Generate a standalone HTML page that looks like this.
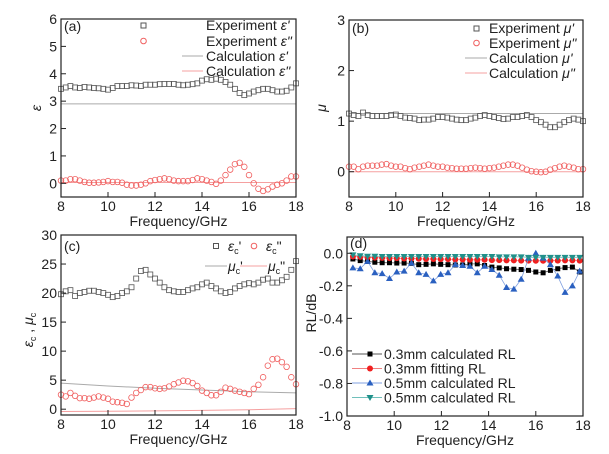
<!DOCTYPE html>
<html><head><meta charset="utf-8"><style>
body{margin:0;background:#fff}
svg{display:block;font-family:"Liberation Sans",Arial,sans-serif}
</style></head><body>
<svg id="fig" width="609" height="454" viewBox="0 0 609 454"></svg>
<script>
const freq = [];
for (let i = 0; i <= 50; i++) freq.push(8 + i * 0.2);
const epsReal = [3.45,3.5,3.55,3.5,3.48,3.52,3.5,3.48,3.47,3.45,3.42,3.48,3.55,3.55,3.55,3.58,3.57,3.55,3.6,3.6,3.6,3.62,3.63,3.63,3.63,3.6,3.58,3.6,3.62,3.65,3.75,3.8,3.78,3.82,3.78,3.7,3.6,3.45,3.3,3.22,3.28,3.35,3.4,3.45,3.45,3.4,3.35,3.35,3.38,3.5,3.65];
const epsImag = [0.1,0.1,0.15,0.15,0.1,0.05,0.02,0.02,0.03,0.05,0.08,0.05,0.05,0.02,-0.05,-0.08,-0.08,-0.05,0,0.08,0.12,0.15,0.18,0.15,0.1,0.08,0.08,0.08,0.12,0.18,0.15,0.1,0.05,-0.02,0.1,0.3,0.5,0.7,0.75,0.6,0.3,0,-0.2,-0.28,-0.22,-0.12,-0.05,0,0.1,0.25,0.25];
const epsCalcReal = 2.9, epsCalcImag = 0.03;
const muReal = [1.15,1.12,1.1,1.17,1.12,1.1,1.1,1.1,1.1,1.12,1.13,1.1,1.07,1.06,1.05,1.02,1.03,1.03,1.05,1.08,1.08,1.07,1.05,1.03,1.02,1.02,1.05,1.07,1.1,1.12,1.1,1.08,1.06,1.04,1.05,1.08,1.08,1.1,1.12,1.08,1.02,0.98,0.93,0.88,0.88,0.93,0.98,1.02,1.05,1.03,1.0];
const muImag = [0.1,0.1,0.05,0.1,0.12,0.12,0.12,0.14,0.15,0.12,0.1,0.1,0.07,0.05,0.08,0.1,0.12,0.14,0.12,0.1,0.1,0.08,0.07,0.06,0.06,0.06,0.07,0.08,0.07,0.06,0.07,0.08,0.1,0.12,0.14,0.14,0.12,0.08,0.04,0.01,0,-0.01,0,0.04,0.07,0.1,0.12,0.1,0.08,0.05,0.05];
const muCalcReal = 1.15, muCalcImag = 0;
const epsCReal = [19.8,20.3,20.5,19.5,20,20.2,20.4,20.4,20.2,20,19.7,19.3,19.5,20,20.3,21,22.5,23.8,24,23.2,22.5,21.8,21,20.5,20.3,20.2,20.2,20.5,20.8,21,21.5,21.8,21.2,20.8,20.3,20,20.2,20.8,21.2,21.5,21.7,21.5,21.8,22.3,22.5,21.8,21.8,22.2,22.8,24,25.5];
const epsCImag = [2.5,2.2,2.8,2.3,1.9,1.9,1.8,2,2.2,2,1.8,1.3,1.2,1.1,0.9,2,2.8,3.3,3.8,3.8,3.6,3.5,3.6,3.9,4.3,4.6,4.9,4.8,4.5,4,3.2,2.8,2.4,2.4,3,3.7,3.5,3.2,3,2.8,2.6,3.5,4.2,5.5,7.5,8.6,8.7,8.1,7.3,5.5,4.3];
const muCFreq = [8,10,12,14,16,18];
const muCReal = [4.5,4.0,3.6,3.3,3.0,2.8];
const muCImag = [-0.4,-0.35,-0.3,-0.2,-0.1,0.1];
const rlFreq = [];
for (let i = 0; i < 32; i++) rlFreq.push(8.25 + i * 0.31);
const rl03calc = [-0.035,-0.045,-0.05,-0.055,-0.058,-0.058,-0.06,-0.06,-0.062,-0.07,-0.068,-0.065,-0.068,-0.07,-0.072,-0.072,-0.065,-0.065,-0.075,-0.085,-0.09,-0.095,-0.098,-0.1,-0.105,-0.115,-0.12,-0.105,-0.095,-0.088,-0.085,-0.115];
const rl03fit = [-0.02,-0.022,-0.025,-0.027,-0.028,-0.03,-0.03,-0.032,-0.032,-0.034,-0.035,-0.035,-0.036,-0.036,-0.038,-0.038,-0.04,-0.04,-0.04,-0.042,-0.042,-0.044,-0.044,-0.045,-0.045,-0.046,-0.046,-0.045,-0.045,-0.044,-0.044,-0.045];
const rl05calc = [-0.09,-0.095,-0.05,-0.12,-0.125,-0.155,-0.115,-0.11,-0.06,-0.12,-0.13,-0.17,-0.13,-0.12,-0.07,-0.075,-0.08,-0.12,-0.08,-0.1,-0.135,-0.21,-0.22,-0.16,-0.03,0.0,-0.03,-0.07,-0.14,-0.24,-0.2,-0.11];
const rl05b = [-0.01,-0.015,-0.018,-0.018,-0.02,-0.02,-0.02,-0.02,-0.02,-0.02,-0.02,-0.02,-0.02,-0.02,-0.02,-0.02,-0.02,-0.02,-0.02,-0.02,-0.022,-0.022,-0.022,-0.022,-0.025,-0.025,-0.025,-0.025,-0.025,-0.025,-0.025,-0.025];
const xTicks = [8,10,12,14,16,18];
const aTicks = [0,1,2,3,4,5,6];
const bTicks = [0,1,2,3];
const cTicks = [0,5,10,15,20,25,30];
const dTicks = [0,-0.2,-0.4,-0.6,-0.8,-1.0];
const dTickLabels = ["0.0","-0.2","-0.4","-0.6","-0.8","-1.0"];

const NS = "http://www.w3.org/2000/svg";
const svg = document.getElementById('fig');
function mk(tag, attrs, parent, text) {
  const e = document.createElementNS(NS, tag);
  for (const k in attrs) e.setAttribute(k, attrs[k]);
  if (text !== undefined) e.textContent = text;
  (parent || svg).appendChild(e);
  return e;
}
function panel(name, px0, px1, py0, py1, x0, x1, y0, y1) {
  const g = mk('g', {});
  
  
  const sx = v => px0 + (v - x0) / (x1 - x0) * (px1 - px0);
  const sy = v => py1 - (v - y0) / (y1 - y0) * (py1 - py0);
  return {g, sx, sy, px0, px1, py0, py1};
}
function frame(P, yt, ylabels, xlabel, ylab) {
  const r = mk('rect', {x:P.px0, y:P.py0, width:P.px1-P.px0, height:P.py1-P.py0, fill:'none', stroke:'#222', 'stroke-width':1.2}, P.g);
  
  
  xTicks.forEach(t => {
    const x = P.sx(t);
    mk('line', {x1:x, x2:x, y1:P.py1, y2:P.py1-5, stroke:'#222'}, P.g);
    const tl = mk('text', {x:x, y:P.py1+14, 'font-size':14, 'text-anchor':'middle', fill:'#222'}, P.g, t);
    
    
  });
  yt.forEach((t, i) => {
    const y = P.sy(t);
    mk('line', {x1:P.px0, x2:P.px0+5, y1:y, y2:y, stroke:'#222'}, P.g);
    const tl = mk('text', {x:P.px0-4, y:y+5, 'font-size':14, 'text-anchor':'end', fill:'#222'}, P.g, ylabels[i]);
    
    
  });
  const xt = mk('text', {x:(P.px0+P.px1)/2, y:P.py1+29, 'font-size':14, 'text-anchor':'middle', fill:'#222'}, P.g, 'Frequency/GHz');
  
  
}
function line(P, xs, ys, color, w) {
  const pts = xs.map((x, i) => P.sx(x).toFixed(1) + ',' + P.sy(ys[i]).toFixed(1)).join(' ');
  return mk('polyline', {points:pts, fill:'none', stroke:color, 'stroke-width':w||1}, P.g);
}
function squares(P, xs, ys, color) {
  const g = mk('g', {}, P.g);
  xs.forEach((x, i) => mk('rect', {x:P.sx(x)-2.5, y:P.sy(ys[i])-2.5, width:5, height:5, fill:'none', stroke:color, 'stroke-width':0.8}, g));
  return g;
}
function circles(P, xs, ys, color) {
  const g = mk('g', {}, P.g);
  xs.forEach((x, i) => mk('circle', {cx:P.sx(x), cy:P.sy(ys[i]), r:2.8, fill:'none', stroke:color, 'stroke-width':0.8}, g));
  return g;
}
function marker(g, type, x, y, color) {
  if (type === 'sq') mk('rect', {x:x-2.5, y:y-2.5, width:5, height:5, fill:color}, g);
  else if (type === 'ci') mk('circle', {cx:x, cy:y, r:3, fill:color}, g);
  else if (type === 'up') mk('polygon', {points:`${x},${y-3.5} ${x-3.5},${y+2.5} ${x+3.5},${y+2.5}`, fill:color}, g);
  else mk('polygon', {points:`${x},${y+3.5} ${x-3.5},${y-2.5} ${x+3.5},${y-2.5}`, fill:color}, g);
}
function ytitle(P, x, y, html, name) {
  const t = mk('text', {x:x, y:y, 'font-size':14, 'text-anchor':'middle', fill:'#222', transform:`rotate(-90 ${x} ${y})`}, P.g);
  t.innerHTML = html;
  
  
}
function label(P, x, y, txt) {
  const t = mk('text', {x:x, y:y, 'font-size':14, fill:'#222'}, P.g, txt);
  
  
}
function legText(P, x, y, html) {
  const t = mk('text', {x:x, y:y+5, 'font-size':14, fill:'#222'}, P.g);
  t.innerHTML = html;
  
  
}
const GRAY = '#555', RED = '#f06060', LGRAY = '#aaa', LRED = '#f5a0a0';

// Panel a
const A = panel('panel-a', 61, 296, 19, 197, 8, 18, -0.5, 6);
mk('line', {x1:A.px0, x2:A.px1, y1:A.sy(epsCalcReal), y2:A.sy(epsCalcReal), stroke:LGRAY}, A.g);
mk('line', {x1:A.px0, x2:A.px1, y1:A.sy(epsCalcImag), y2:A.sy(epsCalcImag), stroke:LRED}, A.g);
squares(A, freq, epsReal, GRAY);
circles(A, freq, epsImag, RED);
frame(A, aTicks, aTicks, '', '');
label(A, 64, 31, '(a)');
ytitle(A, 41, 108, '<tspan font-style="italic">ε</tspan>', 'y-axis-title');
mk('rect', {x:141, y:23, width:5, height:5, fill:'none', stroke:GRAY}, A.g);
mk('circle', {cx:143.5, cy:41, r:2.8, fill:'none', stroke:RED}, A.g);
mk('line', {x1:182, x2:203, y1:56, y2:56, stroke:LGRAY}, A.g);
mk('line', {x1:182, x2:203, y1:71, y2:71, stroke:LRED}, A.g);
legText(A, 206, 25, 'Experiment <tspan font-style="italic">ε\'</tspan>');
legText(A, 206, 41, 'Experiment <tspan font-style="italic">ε"</tspan>');
legText(A, 206, 56, 'Calculation <tspan font-style="italic">ε\'</tspan>');
legText(A, 206, 71, 'Calculation <tspan font-style="italic">ε"</tspan>');

// Panel b
const B = panel('panel-b', 349, 583, 20, 197, 8, 18, -0.5, 3);
mk('line', {x1:B.px0, x2:B.px1, y1:B.sy(muCalcReal), y2:B.sy(muCalcReal), stroke:LGRAY}, B.g);
mk('line', {x1:B.px0, x2:B.px1, y1:B.sy(muCalcImag), y2:B.sy(muCalcImag), stroke:LRED}, B.g);
squares(B, freq, muReal, GRAY);
circles(B, freq, muImag, RED);
frame(B, bTicks, bTicks, '', '');
label(B, 352, 33, '(b)');
ytitle(B, 326, 108, '<tspan font-style="italic">μ</tspan>', 'y-axis-title');
mk('rect', {x:474, y:26, width:5, height:5, fill:'none', stroke:GRAY}, B.g);
mk('circle', {cx:476.5, cy:43, r:2.8, fill:'none', stroke:RED}, B.g);
mk('line', {x1:465, x2:487, y1:58, y2:58, stroke:LGRAY}, B.g);
mk('line', {x1:465, x2:487, y1:73, y2:73, stroke:LRED}, B.g);
legText(B, 489, 28, 'Experiment <tspan font-style="italic">μ\'</tspan>');
legText(B, 489, 43, 'Experiment <tspan font-style="italic">μ"</tspan>');
legText(B, 489, 58, 'Calculation <tspan font-style="italic">μ\'</tspan>');
legText(B, 489, 73, 'Calculation <tspan font-style="italic">μ"</tspan>');

// Panel c
const C = panel('panel-c', 61, 296, 235, 415, 8, 18, -1, 30);
line(C, muCFreq, muCReal, LGRAY);
line(C, muCFreq, muCImag, LRED);
squares(C, freq, epsCReal, GRAY);
circles(C, freq, epsCImag, RED);
frame(C, cTicks, cTicks, '', '');
label(C, 64, 251, '(c)');
ytitle(C, 33, 330, '<tspan font-style="italic">ε</tspan><tspan font-size="9" dy="3">c</tspan><tspan dy="-3"> , </tspan><tspan font-style="italic">μ</tspan><tspan font-size="9" dy="3">c</tspan>', 'y-axis-title');
mk('rect', {x:213.5, y:243.5, width:5, height:5, fill:'none', stroke:GRAY}, C.g);
mk('circle', {cx:254, cy:246, r:2.8, fill:'none', stroke:RED}, C.g);
mk('line', {x1:205, x2:227, y1:266, y2:266, stroke:LGRAY}, C.g);
mk('line', {x1:240, x2:267, y1:266, y2:266, stroke:LRED}, C.g);
legText(C, 228, 246, '<tspan font-style="italic">ε</tspan><tspan font-size="9" dy="3">c</tspan><tspan dy="-3">\'</tspan>');
legText(C, 266, 246, '<tspan font-style="italic">ε</tspan><tspan font-size="9" dy="3">c</tspan><tspan dy="-3">"</tspan>');
legText(C, 228, 266, '<tspan font-style="italic">μ</tspan><tspan font-size="9" dy="3">c</tspan><tspan dy="-3">\'</tspan>');
legText(C, 268, 266, '<tspan font-style="italic">μ</tspan><tspan font-size="9" dy="3">c</tspan><tspan dy="-3">"</tspan>');

// Panel d
const D = panel('panel-d', 347, 583, 237, 416, 8, 18, -1, 0.1);
const series = [
  {ys: rl03calc, c:'#000', lc:'#555', m:'sq', name:'series-03mm-calculated', lab:'0.3mm calculated RL'},
  {ys: rl03fit, c:'#f02020', lc:'#f08080', m:'ci', name:'series-03mm-fitting', lab:'0.3mm fitting RL'},
  {ys: rl05calc, c:'#2a60c0', lc:'#80a0e0', m:'up', name:'series-05mm-calculated', lab:'0.5mm calculated RL'},
  {ys: rl05b, c:'#20908a', lc:'#70c0bb', m:'dn', name:'series-05mm-calculated-b', lab:'0.5mm calculated RL'}
];
series.forEach((s, k) => {
  const g = mk('g', {}, D.g);
  
  
  const pts = rlFreq.map((x, i) => D.sx(x).toFixed(1) + ',' + D.sy(s.ys[i]).toFixed(1)).join(' ');
  mk('polyline', {points:pts, fill:'none', stroke:s.lc, 'stroke-width':0.8}, g);
  rlFreq.forEach((x, i) => marker(g, s.m, D.sx(x), D.sy(s.ys[i]), s.c));
  const ly = 354 + k * 14.5;
  mk('line', {x1:352, x2:382, y1:ly, y2:ly, stroke:s.lc}, g);
  marker(g, s.m, 370, ly, s.c);
  legText(D, 384, ly, s.lab);
});
frame(D, dTicks, dTickLabels, '', '');
label(D, 350, 248, '(d)');
ytitle(D, 316, 313, 'RL/dB', 'y-axis-title');
</script>
</body></html>
